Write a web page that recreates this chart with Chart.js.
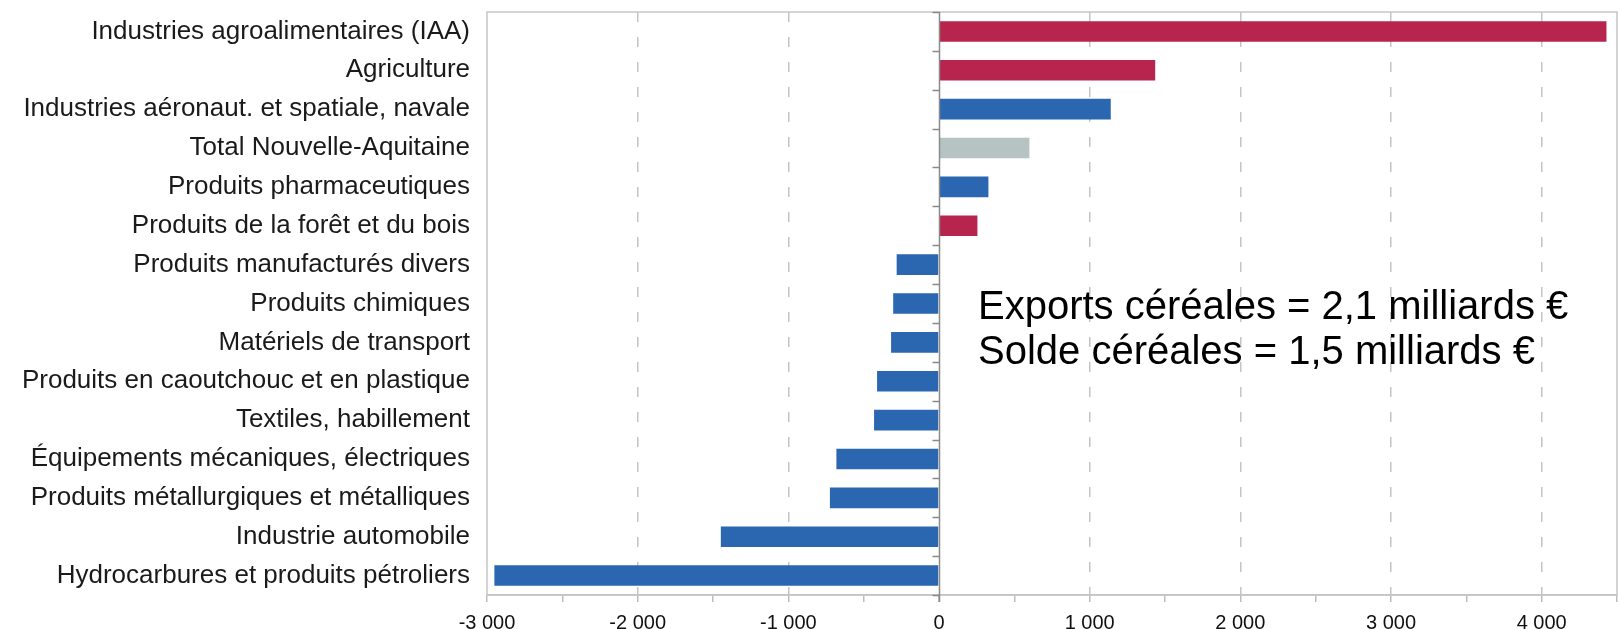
<!DOCTYPE html>
<html lang="fr">
<head>
<meta charset="utf-8">
<title>Solde commercial par secteur - Nouvelle-Aquitaine</title>
<script src="https://cdn.jsdelivr.net/npm/chart.js@4.4.1/dist/chart.umd.min.js"></script>
<style>
  html, body { margin: 0; padding: 0; background: #ffffff; }
  #cadre { width: 1618px; height: 629px; }
</style>
</head>
<body>
<div id="cadre"><canvas id="graphique" width="1618" height="629"></canvas></div>
<script>
// Secteurs (de haut en bas)
const secteurs = [
    'Industries agroalimentaires (IAA)',
    'Agriculture',
    'Industries aéronaut. et spatiale, navale',
    'Total Nouvelle-Aquitaine',
    'Produits pharmaceutiques',
    'Produits de la forêt et du bois',
    'Produits manufacturés divers',
    'Produits chimiques',
    'Matériels de transport',
    'Produits en caoutchouc et en plastique',
    'Textiles, habillement',
    'Équipements mécaniques, électriques',
    'Produits métallurgiques et métalliques',
    'Industrie automobile',
    'Hydrocarbures et produits pétroliers'
];

// Solde en millions d'euros
const soldes = [4430, 1435, 1140, 600, 328, 255, -281, -304, -318, -411, -431, -681, -724, -1448, -2951];

// Famille de chaque secteur : filière agricole / autre / total
const familles = ['agri', 'agri', 'autre', 'total', 'autre', 'agri', 'autre', 'autre', 'autre', 'autre', 'autre', 'autre', 'autre', 'autre', 'autre'];

// Axe horizontal
const axeMin = -3000;
const axeMax = 4500;
const pasGraduation = 500;
const pasEtiquette = 1000;

// Texte de l'encadré
const texteCereales = [
    'Exports céréales = 2,1 milliards €',
    'Solde céréales = 1,5 milliards €'
];

const couleurs = { agri: '#B7244E', autre: '#2B66B0', total: '#B6C3C3' };
const police = "'Liberation Sans', Arial, sans-serif";

function formaterMillier(v){
    // -3000 -> "-3 000"
    const signe = v < 0 ? '-' : '';
    const s = String(Math.abs(v));
    return signe + s.replace(/\B(?=(\d{3})+(?!\d))/g, ' ');
}

// Cadre, axe du zéro et texte
const pluginDecor = {
    id: 'decor',
    beforeDatasetsDraw(chart){
        const ctx = chart.ctx;
        const zone = chart.chartArea;
        ctx.save();
        // cadre de la zone de tracé
        ctx.strokeStyle = '#c6c6c6';
        ctx.lineWidth = 1.5;
        ctx.strokeRect(zone.left, zone.top, zone.right - zone.left, zone.bottom - zone.top);
        ctx.restore();
    },
    afterDatasetsDraw(chart){
        const ctx = chart.ctx;
        const zone = chart.chartArea;
        const x = chart.scales.x;
        const y = chart.scales.y;
        const x0 = Math.round(x.getPixelForValue(0)) + 0.5;
        ctx.save();
        ctx.strokeStyle = '#8a8a8a';
        ctx.lineWidth = 1.5;
        ctx.beginPath();
        ctx.moveTo(x0, zone.top);
        ctx.lineTo(x0, zone.bottom + 7);
        // petites graduations entre les catégories
        for (let i = -1; i < secteurs.length; i++) {
            const yy = Math.round(y.getPixelForValue(i + 0.5)) + 0.5;
            ctx.moveTo(x0 - 7, yy);
            ctx.lineTo(x0, yy);
        }
        ctx.stroke();

        // texte céréales
        ctx.fillStyle = '#000000';
        ctx.font = '40px ' + police;
        ctx.textAlign = 'left';
        ctx.textBaseline = 'alphabetic';
        ctx.fillText(texteCereales[0], 978, 319);
        ctx.fillText(texteCereales[1], 978, 364);
        ctx.restore();
    }
};

function dessinerGraphique(){
    const ctx = document.getElementById('graphique').getContext('2d');
    const graphique = new Chart(ctx, {
        type: 'bar',
        data: {
            labels: secteurs,
            datasets: [{
                label: 'Solde',
                data: soldes,
                backgroundColor: familles.map(f => couleurs[f]),
                borderWidth: 0,
                barPercentage: 0.53,
                categoryPercentage: 1
            }]
        },
        options: {
            indexAxis: 'y',
            responsive: false,
            animation: false,
            layout: { padding: { top: 12, right: 1, left: 0, bottom: 0 } },
            plugins: {
                legend: { display: false },
                tooltip: { enabled: false }
            },
            scales: {
                x: {
                    min: axeMin,
                    max: axeMax,
                    afterFit: s => { s.height = 34; s.paddingLeft = 0; s.paddingRight = 0; },
                    afterBuildTicks: s => {
                        const t = [];
                        for (let v = axeMin; v <= axeMax; v += pasGraduation) t.push({ value: v });
                        s.ticks = t;
                    },
                    ticks: {
                        autoSkip: false,
                        maxRotation: 0,
                        padding: 9,
                        color: '#111111',
                        font: { family: police, size: 20 },
                        callback: v => (v % pasEtiquette === 0 && v !== axeMax) ? formaterMillier(v) : ''
                    },
                    grid: {
                        drawTicks: true,
                        tickLength: 7,
                        tickColor: '#bdbdbd',
                        lineWidth: 1.5,
                        color: c => {
                            const v = c.tick ? c.tick.value : null;
                            if (v === null || v === axeMin || v === 0 || v === axeMax) return 'rgba(0,0,0,0)';
                            return v % pasEtiquette === 0 ? '#c4c4c4' : 'rgba(0,0,0,0)';
                        }
                    },
                    border: { display: true, color: '#bdbdbd', width: 1.5, dash: [10, 15] }
                },
                y: {
                    afterFit: s => { s.width = 487; s.paddingTop = 0; s.paddingBottom = 0; },
                    ticks: {
                        padding: 17,
                        color: '#1a1a1a',
                        font: { family: police, size: 26 }
                    },
                    grid: { display: false, drawTicks: false },
                    border: { display: false }
                }
            }
        },
        plugins: [pluginDecor]
    });
    return graphique;
}

dessinerGraphique();
</script>
</body>
</html>
